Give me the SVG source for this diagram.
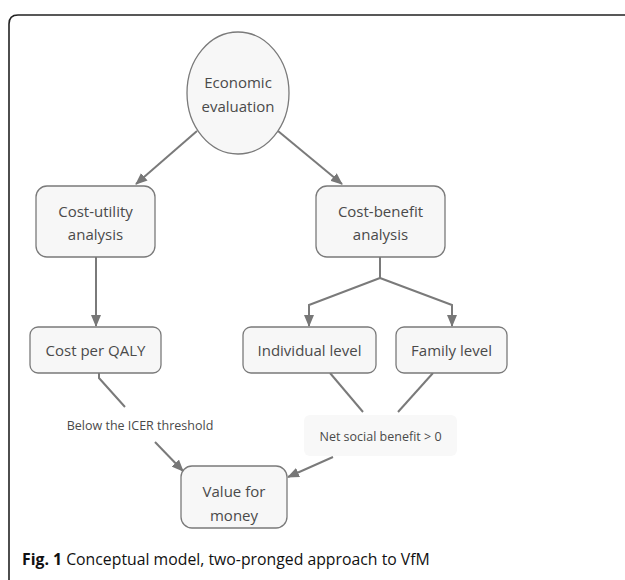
<svg xmlns="http://www.w3.org/2000/svg" width="625" height="580" viewBox="0 0 625 580">
<defs>
<marker id="ah" viewBox="0 0 12 10" refX="11" refY="5" markerWidth="12" markerHeight="10" markerUnits="userSpaceOnUse" orient="auto">
<path d="M0,0 L12,5 L0,10 Z" fill="#777"/>
</marker>
<style>
.node{fill:#f7f7f7;stroke:#7a7a7a;stroke-width:1.3}
.t{font-family:"Open Sans","Noto Sans",sans-serif;font-size:15px;fill:#4a4a4a;text-anchor:middle}
.lab{font-family:"Open Sans","Noto Sans",sans-serif;font-size:12.5px;fill:#4a4a4a;text-anchor:middle}
.c{fill:none;stroke:#7a7a7a;stroke-width:2}
.cap{font-family:"Open Sans","Noto Sans",sans-serif;font-size:15.8px;fill:#111}
</style>
</defs>
<rect width="625" height="580" fill="#fff"/>
<path d="M9,580 L9,24 Q9,15 18,15 L625,15" fill="none" stroke="#222" stroke-width="1.6"/>
<g id="connectors">
<line class="c" x1="197" y1="131" x2="136" y2="184" marker-end="url(#ah)"/>
<line class="c" x1="278" y1="131" x2="342" y2="184" marker-end="url(#ah)"/>
<line class="c" x1="96" y1="257" x2="96" y2="326" marker-end="url(#ah)"/>
<polyline class="c" points="380,257 380,278 309,305 309,326" marker-end="url(#ah)"/>
<polyline class="c" points="380,278 452,305 452,326" marker-end="url(#ah)"/>
<polyline class="c" points="99,373 99,378 125,407"/>
<line class="c" x1="155" y1="442" x2="183" y2="471" marker-end="url(#ah)"/>
<line class="c" x1="330" y1="373" x2="363" y2="412"/>
<line class="c" x1="433" y1="373" x2="398" y2="412"/>
<line class="c" x1="333" y1="457" x2="288" y2="477" marker-end="url(#ah)"/>
</g>
<g id="economic-evaluation">
<ellipse class="node" cx="238" cy="93" rx="51" ry="61"/>
<text class="t" x="238" y="88">Economic</text>
<text class="t" x="238" y="112">evaluation</text>
</g>
<g id="cost-utility">
<rect class="node" x="36" y="186" width="119" height="71" rx="11"/>
<text class="t" x="95.5" y="217">Cost-utility</text>
<text class="t" x="95.5" y="240">analysis</text>
</g>
<g id="cost-benefit">
<rect class="node" x="316" y="186" width="129" height="71" rx="11"/>
<text class="t" x="380.5" y="217">Cost-benefit</text>
<text class="t" x="380.5" y="240">analysis</text>
</g>
<g id="cost-per-qaly">
<rect class="node" x="30" y="327" width="131" height="46" rx="8"/>
<text class="t" x="95.5" y="356">Cost per QALY</text>
</g>
<g id="individual-level">
<rect class="node" x="243" y="327" width="133" height="46" rx="8"/>
<text class="t" x="309.5" y="356">Individual level</text>
</g>
<g id="family-level">
<rect class="node" x="396" y="327" width="111" height="46" rx="8"/>
<text class="t" x="451.5" y="356">Family level</text>
</g>
<g id="below-icer-label">
<text class="lab" x="140" y="430">Below the ICER threshold</text>
</g>
<g id="net-social-benefit-label">
<rect x="304" y="415" width="153" height="41" rx="6" fill="#f8f8f8"/>
<text class="lab" x="380.5" y="441">Net social benefit &gt; 0</text>
</g>
<g id="value-for-money">
<rect class="node" x="181" y="466" width="106" height="62" rx="11"/>
<text class="t" x="234" y="497">Value for</text>
<text class="t" x="234" y="521">money</text>
</g>
<text class="cap" x="22" y="565"><tspan font-weight="bold">Fig. 1</tspan> Conceptual model, two-pronged approach to VfM</text>
</svg>
